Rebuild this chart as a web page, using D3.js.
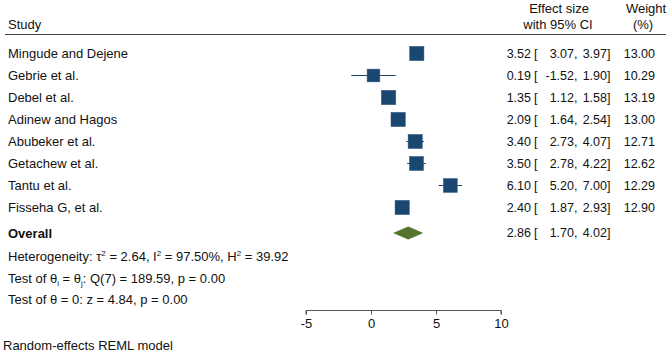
<!DOCTYPE html>
<html>
<head>
<meta charset="utf-8">
<script src="https://cdn.jsdelivr.net/npm/d3@7"></script>
<style>
  body { margin: 0; background: #fff; }
  svg text { font-family: "Liberation Sans", Arial, sans-serif; font-size: 13px; fill: #111; white-space: pre; }
  svg text.num { font-size: 12.5px; }
</style>
</head>
<body>
<div id="chart"></div>
<script>
var studies = ["Mingude and Dejene", "Gebrie et al.", "Debel et al.", "Adinew and Hagos",
  "Abubeker et al.", "Getachew et al.", "Tantu et al.", "Fisseha G, et al."];
var effects = [3.52, 0.19, 1.35, 2.09, 3.40, 3.50, 6.10, 2.40];
var lower = [3.07, -1.52, 1.12, 1.64, 2.73, 2.78, 5.20, 1.87];
var upper = [3.97, 1.90, 1.58, 2.54, 4.07, 4.22, 7.00, 2.93];
var weights = [13.00, 10.29, 13.19, 13.00, 12.71, 12.62, 12.29, 12.90];
var overall = { est: 2.86, lo: 1.70, hi: 4.02 };
var xTicks = [-5, 0, 5, 10];

var width = 669, height = 352;
var svg = d3.select("#chart").append("svg")
  .attr("width", width)
  .attr("height", height);

var x = d3.scaleLinear().domain([-5, 10]).range([306, 501]);
var y = d3.scaleLinear().domain([0, 7]).range([53.5, 207.5]);
var overallY = 233;

var locale = d3.formatLocale({ decimal: ".", thousands: ",", grouping: [3], currency: ["", ""], minus: "-" });
var fmt = locale.format(".2f");

// draws "est [ lo,  hi]" in fixed column pieces
function ciText(g, yy, e, l, h) {
  function put(xx, anchor, s) {
    g.append("text").attr("class", "num").attr("x", xx).attr("y", yy).attr("dy", "0.35em")
      .attr("text-anchor", anchor).text(s);
  }
  put(531, "end", fmt(e));
  put(534, "start", "[");
  put(574, "end", fmt(l));
  put(574, "start", ",");
  put(607, "end", fmt(h));
  put(607, "start", "]");
}

// header
svg.append("text").attr("x", 8).attr("y", 29).text("Study");
svg.append("text").attr("x", 559).attr("y", 13).attr("text-anchor", "middle").text("Effect size");
svg.append("text").attr("x", 558).attr("y", 29).attr("text-anchor", "middle").text("with 95% CI");
svg.append("text").attr("x", 646).attr("y", 13).attr("text-anchor", "middle").text("Weight");
svg.append("text").attr("x", 643).attr("y", 29).attr("text-anchor", "middle").text("(%)");
svg.append("line").attr("x1", 5).attr("x2", 666).attr("y1", 34.5).attr("y2", 34.5)
  .attr("stroke", "#444").attr("stroke-width", 1.2);

var data = studies.map(function(s, i) {
  return { name: s, est: effects[i], lo: lower[i], hi: upper[i], w: weights[i], i: i };
});
var maxW = d3.max(weights);
var side = d3.scaleSqrt().domain([0, maxW]).range([0, 14.5]);

var row = svg.selectAll(".row").data(data).enter().append("g").attr("class", "row");

row.append("line")
  .attr("x1", function(d) { return x(d.lo); })
  .attr("x2", function(d) { return x(d.hi); })
  .attr("y1", function(d) { return y(d.i); })
  .attr("y2", function(d) { return y(d.i); })
  .attr("stroke", "#1a476f").attr("stroke-width", 1);

row.append("rect")
  .attr("x", function(d) { return x(d.est) - side(d.w) / 2; })
  .attr("y", function(d) { return y(d.i) - side(d.w) / 2; })
  .attr("width", function(d) { return side(d.w); })
  .attr("height", function(d) { return side(d.w); })
  .attr("fill", "#1a476f")
  .attr("stroke", "#3a6690").attr("stroke-width", 0.5);

row.append("text")
  .attr("x", 8).attr("y", function(d) { return y(d.i); }).attr("dy", "0.35em")
  .text(function(d) { return d.name; });
row.each(function(d) {
  ciText(d3.select(this), y(d.i), d.est, d.lo, d.hi);
});
row.append("text")
  .attr("class", "num")
  .attr("x", 655).attr("y", function(d) { return y(d.i); }).attr("dy", "0.35em")
  .attr("text-anchor", "end")
  .text(function(d) { return fmt(d.w); });

// overall
svg.append("path")
  .attr("d", "M" + x(overall.lo) + "," + overallY +
    "L" + x(overall.est) + "," + (overallY - 6.5) +
    "L" + x(overall.hi) + "," + overallY +
    "L" + x(overall.est) + "," + (overallY + 6.5) + "Z")
  .attr("fill", "#55752f");
svg.append("text").attr("x", 8).attr("y", overallY).attr("dy", "0.35em")
  .style("font-weight", "bold").text("Overall");
ciText(svg, overallY, overall.est, overall.lo, overall.hi);

// stats lines
var het = svg.append("text").attr("x", 8).attr("y", 256).attr("dy", "0.35em");
het.append("tspan").text("Heterogeneity: \u03c4");
het.append("tspan").attr("dy", -5).style("font-size", "8px").text("2");
het.append("tspan").attr("dy", 5).text(" = 2.64, I");
het.append("tspan").attr("dy", -5).style("font-size", "8px").text("2");
het.append("tspan").attr("dy", 5).text(" = 97.50%, H");
het.append("tspan").attr("dy", -5).style("font-size", "8px").text("2");
het.append("tspan").attr("dy", 5).text(" = 39.92");

var t1 = svg.append("text").attr("x", 8).attr("y", 278).attr("dy", "0.35em");
t1.append("tspan").text("Test of \u03b8");
t1.append("tspan").attr("dy", 3).style("font-size", "8px").text("i");
t1.append("tspan").attr("dy", -3).text(" = \u03b8");
t1.append("tspan").attr("dy", 3).style("font-size", "8px").text("j");
t1.append("tspan").attr("dy", -3).text(": Q(7) = 189.59, p = 0.00");

svg.append("text").attr("x", 8).attr("y", 299).attr("dy", "0.35em")
  .text("Test of \u03b8 = 0: z = 4.84, p = 0.00");

// axis
var axis = d3.axisBottom(x).tickValues(xTicks).tickSize(4).tickPadding(4)
  .tickFormat(locale.format("d"));
var ag = svg.append("g").attr("transform", "translate(0,310.5)").call(axis);
ag.select(".domain").attr("stroke", "#555").attr("d", "M" + x(-5) + ",4V0H" + x(10) + "V4");
ag.selectAll(".tick line").attr("stroke", "#555");
ag.selectAll(".tick text").style("font-size", "13px").attr("fill", "#111");

svg.append("text").attr("x", 3).attr("y", 345).attr("dy", "0.35em")
  .text("Random-effects REML model");
</script>
</body>
</html>
